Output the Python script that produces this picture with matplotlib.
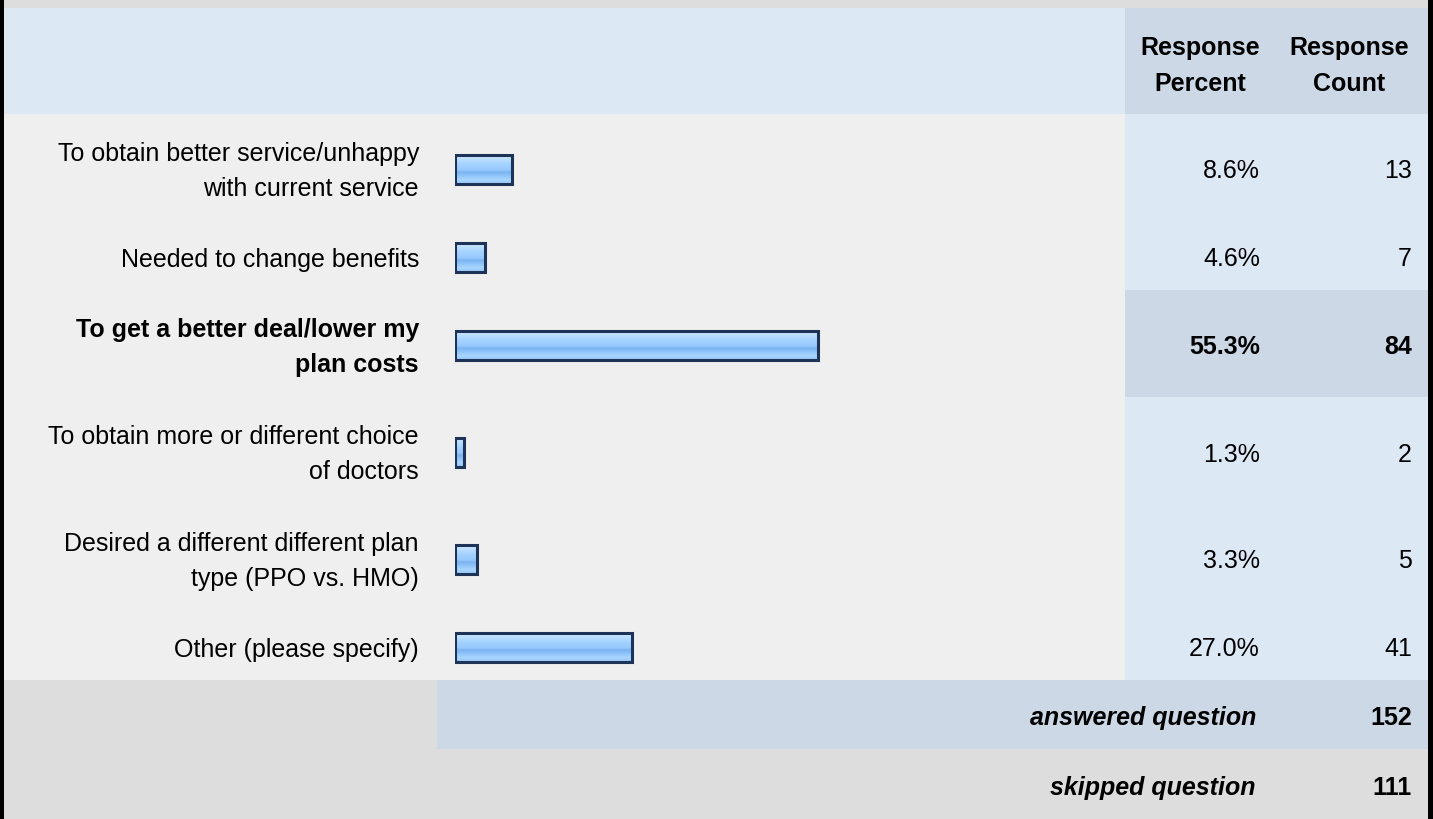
import numpy as np
import matplotlib
matplotlib.use("Agg")
import matplotlib.pyplot as plt
from matplotlib.patches import Rectangle
from matplotlib.colors import LinearSegmentedColormap

plt.rcParams['font.family'] = ['Liberation Sans', 'DejaVu Sans']

## survey data
answers = ["To obtain better service/unhappy\nwith current service",
           "Needed to change benefits",
           "To get a better deal/lower my\nplan costs",
           "To obtain more or different choice\nof doctors",
           "Desired a different different plan\ntype (PPO vs. HMO)",
           "Other (please specify)"]
percents = [8.6, 4.6, 55.3, 1.3, 3.3, 27.0]
counts = [13, 7, 84, 2, 5, 41]
answered = 152
skipped = 111
top_answer = int(np.argmax(counts))

## layout in pixels
W, H = 1433, 819
row_edges = [114, 221, 290, 397, 504, 611, 680]
pct_col = 1125
right_edge = 1428
fs = 18

light_grey = "#EFEFEF"
mid_grey = "#DDDDDD"
light_blue = "#DDE8F5"
mid_blue = "#CCD8E6"

fig = plt.figure(figsize=(W / 100, H / 100), dpi=100)
ax = fig.add_axes([0, 0, 1, 1])
ax.set_xlim(0, W)
ax.set_ylim(H, 0)
ax.axis("off")

def box(x0, y0, x1, y1, c):
    ax.add_patch(Rectangle((x0, y0), x1 - x0, y1 - y0, facecolor=c, edgecolor="none", zorder=0))

# backgrounds
box(0, 0, W, 8, mid_grey)
box(0, 8, pct_col, row_edges[0], light_blue)
box(pct_col, 8, right_edge, row_edges[0], mid_blue)
for i in range(len(answers)):
    y0, y1 = row_edges[i], row_edges[i + 1]
    box(0, y0, pct_col, y1, light_grey)
    box(pct_col, y0, right_edge, y1, mid_blue if i == top_answer else light_blue)
box(0, 680, 437, 749, mid_grey)
box(437, 680, right_edge, 749, mid_blue)
box(0, 749, W, H, mid_grey)
box(0, 0, 4, H, "black")
box(right_edge, 0, W, H, "black")

# header
ax.text(1200, 66, "Response\nPercent", ha="center", va="center", fontsize=fs,
        fontweight="bold", linespacing=1.65)
ax.text(1349, 66, "Response\nCount", ha="center", va="center", fontsize=fs,
        fontweight="bold", linespacing=1.65)

# bars live in their own axes, x in percent
bx0, bx1 = 455, 455 + 657
bar_ax = fig.add_axes([bx0 / W, 0, (bx1 - bx0) / W, 1])
bar_ax.set_xlim(0, 100)
bar_ax.set_ylim(H, 0)
bar_ax.axis("off")
bar_ax.patch.set_alpha(0)

grad = LinearSegmentedColormap.from_list("g", [
    (0.0, "#D4EAFF"), (0.15, "#BFE0FF"), (0.35, "#A4D2FF"), (0.55, "#96C9FC"),
    (0.62, "#7CB3F0"), (0.75, "#8EC4FA"), (0.88, "#A9D5FF"), (1.0, "#9CCBF8")])
img = np.linspace(0, 1, 64).reshape(-1, 1)

centers = [(row_edges[i] + row_edges[i + 1]) / 2 + 1.5 for i in range(len(answers))]
bars = bar_ax.barh(centers, percents, height=29, color="#99CCFF",
                   edgecolor="#1E3358", linewidth=2.2, zorder=3)
for b in bars:
    x, y = b.get_x(), b.get_y()
    im = bar_ax.imshow(img, cmap=grad, aspect="auto", zorder=2,
                       extent=[x, x + b.get_width(), y + b.get_height(), y])
    im.set_clip_path(b)
    b.set_facecolor("none")

# answer labels and values
for i, (lab, p, n) in enumerate(zip(answers, percents, counts)):
    yc = (row_edges[i] + row_edges[i + 1]) / 2 + 4
    wt = "bold" if i == top_answer else "normal"
    ax.text(419, yc, lab, ha="right", va="center", fontsize=fs, fontweight=wt,
            linespacing=1.6)
    ax.text(1260, yc, f"{p:.1f}%", ha="right", va="center", fontsize=fs, fontweight=wt)
    ax.text(1412, yc, str(n), ha="right", va="center", fontsize=fs, fontweight=wt)

ax.text(1256, 718, "answered question", ha="right", va="center", fontsize=fs,
        fontweight="bold", style="italic")
ax.text(1412, 718, str(answered), ha="right", va="center", fontsize=fs, fontweight="bold")
ax.text(1256, 788, "skipped question", ha="right", va="center", fontsize=fs,
        fontweight="bold", style="italic")
ax.text(1412, 788, str(skipped), ha="right", va="center", fontsize=fs, fontweight="bold")

fig.savefig("out.png", dpi=100)
